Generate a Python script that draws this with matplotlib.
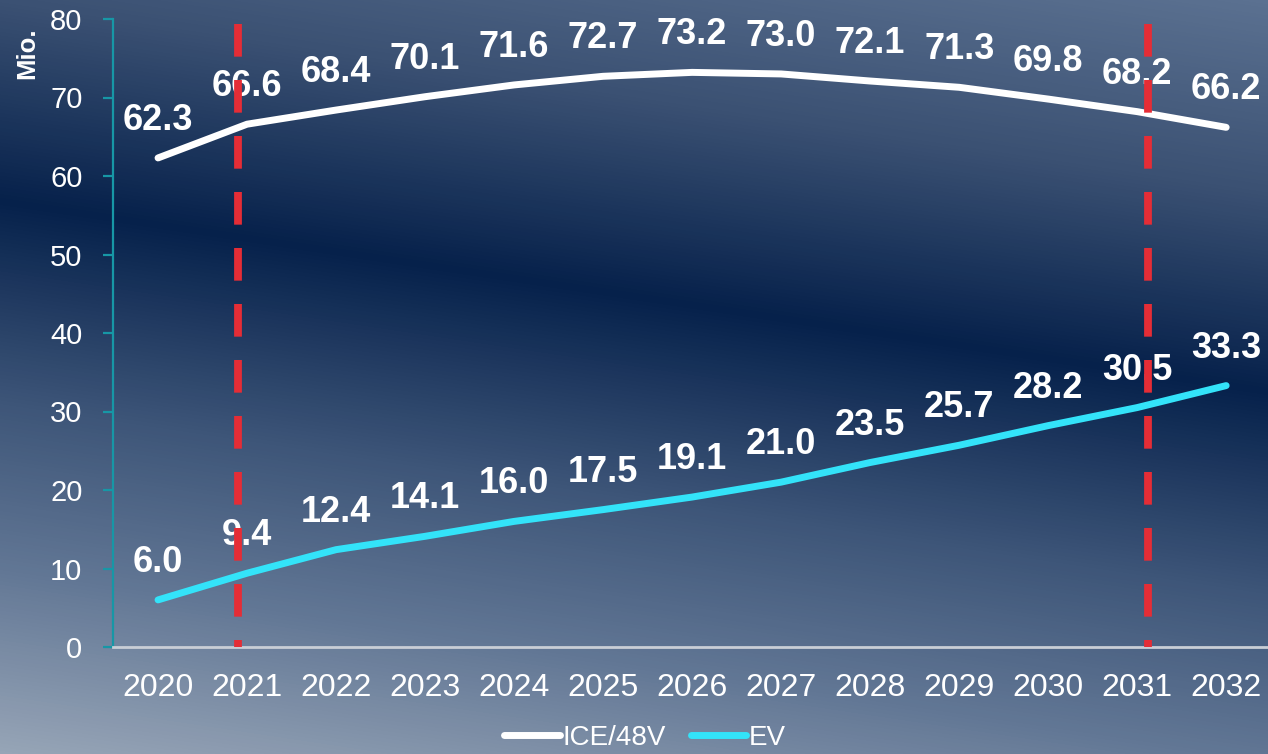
import numpy as np
import matplotlib
matplotlib.use("Agg")
import matplotlib.pyplot as plt
from matplotlib.colors import LinearSegmentedColormap

years = ["2020", "2021", "2022", "2023", "2024", "2025", "2026",
         "2027", "2028", "2029", "2030", "2031", "2032"]
ice = [62.3, 66.6, 68.4, 70.1, 71.6, 72.7, 73.2, 73.0, 72.1, 71.3, 69.8, 68.2, 66.2]
ev = [6.0, 9.4, 12.4, 14.1, 16.0, 17.5, 19.1, 21.0, 23.5, 25.7, 28.2, 30.5, 33.3]
series_names = ["ICE/48V", "EV"]
highlight_pos = [0.9, 11.12]   # category-index positions of the red markers
y_ticks = [0, 10, 20, 30, 40, 50, 60, 70, 80]

plt.rcParams['font.family'] = ['Liberation Sans', 'DejaVu Sans']

W, H = 1268, 754
fig = plt.figure(figsize=(W / 100, H / 100), dpi=100)

# background gradient
bg = fig.add_axes([0, 0, 1, 1])
yy, xx = np.mgrid[0:H, 0:W]
s = yy - 0.15 * xx
stops = [(-190, '#5b7191'), (0, '#3b5173'), (200, '#06214b'),
         (400, '#3d5578'), (570, '#627795'), (754, '#97a5b7')]
smin, smax = stops[0][0], stops[-1][0]
cmap = LinearSegmentedColormap.from_list(
    'bgc', [((v - smin) / (smax - smin), c) for v, c in stops])
bg.imshow((s - smin) / (smax - smin), cmap=cmap, vmin=0, vmax=1,
          aspect='auto', extent=[0, W, H, 0], interpolation='bilinear')
bg.axis('off')

ax = fig.add_axes([113 / W, 107 / H, 1 - 113 / W, (647 - 19) / H])
ax.patch.set_alpha(0)
x = np.arange(len(years))

ax.plot(x, ice, color='white', lw=5, solid_capstyle='round', solid_joinstyle='round',
        label=series_names[0], zorder=3)
ax.plot(x, ev, color='#33e3f9', lw=5, solid_capstyle='round', solid_joinstyle='round',
        label=series_names[1], zorder=3)

for series in (ice, ev):
    for xi, v in zip(x, series):
        ax.annotate(f"{v:.1f}", (xi, v), xytext=(0, 27), textcoords='offset points',
                    ha='center', va='center', color='white', fontsize=26,
                    fontweight='bold', zorder=4)

for hp in highlight_pos:
    ax.plot([hp, hp], [79.4, 0], color='#e52d36', lw=5.6,
            linestyle=(0, (4.2, 3.0)), dash_capstyle='butt', zorder=5, clip_on=False)

ax.set_xlim(-0.506, 12.47)
ax.set_ylim(0, 80)
ax.set_xticks(x)
ax.set_xticklabels(years)
ax.set_yticks(y_ticks)
for sp in ['top', 'right']:
    ax.spines[sp].set_visible(False)
ax.spines['left'].set_color('#1797a6')
ax.spines['left'].set_linewidth(1.6)
ax.spines['bottom'].set_color('#c9ced6')
ax.spines['bottom'].set_linewidth(2)
ax.tick_params(axis='x', length=0, pad=19, labelsize=23, labelcolor='white')
ax.tick_params(axis='y', length=7, width=1.6, color='#1797a6', pad=15,
               labelsize=21, labelcolor='white')

fig.text(27 / W, 1 - 53 / H, "Mio.", rotation=90, ha='center', va='center',
         color='white', fontsize=18.5, fontweight='bold')

leg = fig.legend(loc='center', bbox_to_anchor=(645 / W, 16 / H), ncol=2,
                 frameon=False, fontsize=20, handlelength=2.0,
                 handletextpad=0.1, columnspacing=0.9, labelcolor='white',
                 borderpad=0.1)
for h in leg.get_lines():
    h.set_linewidth(5)

fig.savefig("out.png", dpi=100)
